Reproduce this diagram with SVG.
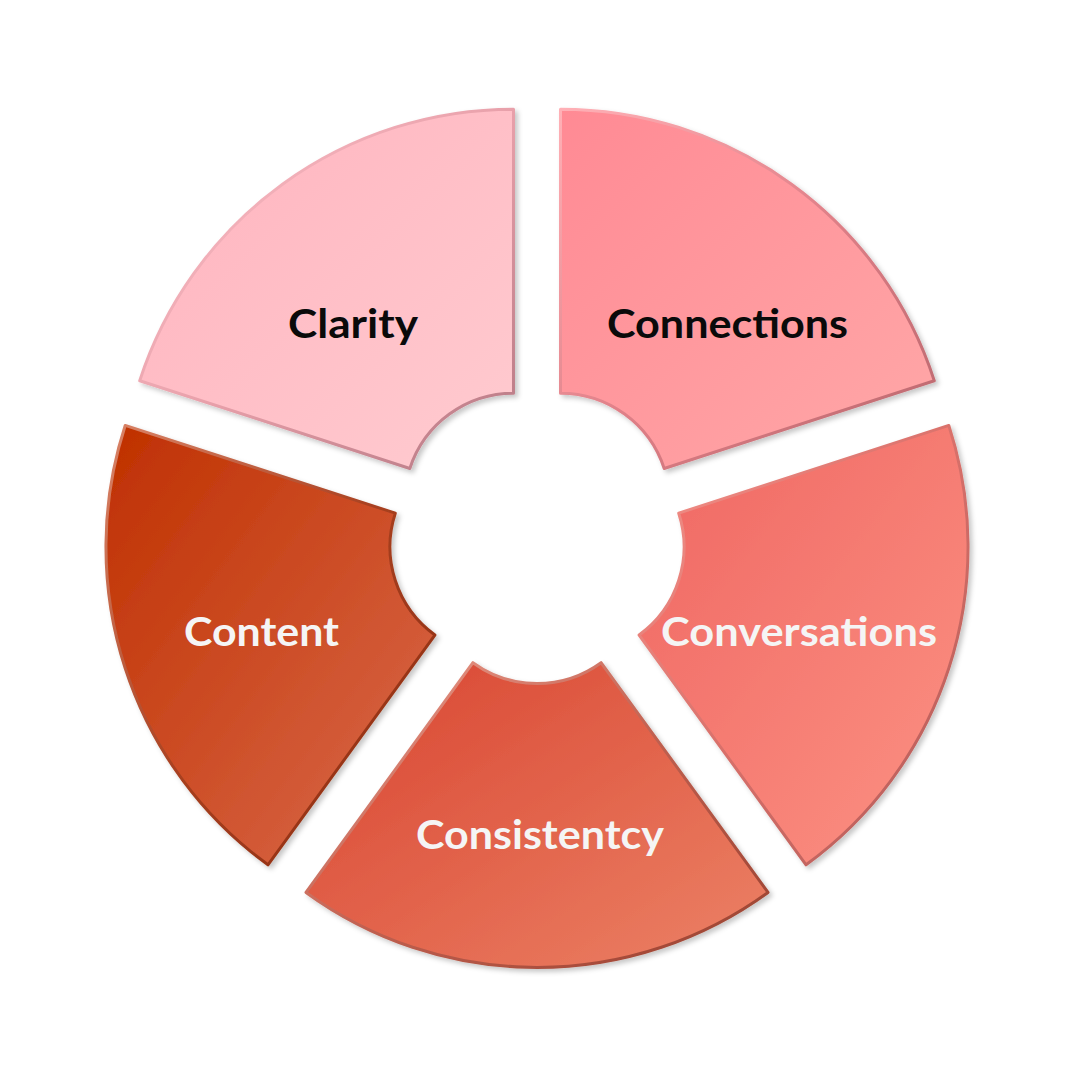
<svg xmlns="http://www.w3.org/2000/svg" width="1080" height="1080" viewBox="0 0 1080 1080">
  <style>
    .seg { stroke-width: 3; stroke-linejoin: round; filter: url(#sh); }
    .lbl { font-family: Lato, "Noto Sans", "DejaVu Sans", sans-serif; font-weight: 700; font-size: 41px; text-anchor: middle; }
    .dark { fill: #0a0a0a; }
    .light { fill: #f5f5f5; }
  </style>
  <defs>
    <filter id="sh" x="-10%" y="-10%" width="125%" height="125%">
      <feDropShadow dx="3" dy="3" stdDeviation="2.5" flood-color="#000" flood-opacity="0.22"/>
    </filter>
    <linearGradient id="fClarity" x1="0" y1="0" x2="1" y2="1"><stop offset="0" stop-color="#FFB3BE"/><stop offset="1" stop-color="#FFCBD0"/></linearGradient>
    <linearGradient id="sClarity" x1="0" y1="0" x2="1" y2="1"><stop offset="0" stop-color="#FFC4CC"/><stop offset="0.5" stop-color="#E8A0AA"/><stop offset="1" stop-color="#B47782"/></linearGradient>
    <linearGradient id="fConn" x1="0" y1="0" x2="1" y2="1"><stop offset="0" stop-color="#FF8A94"/><stop offset="1" stop-color="#FFA8A8"/></linearGradient>
    <linearGradient id="sConn" x1="0" y1="0" x2="1" y2="1"><stop offset="0" stop-color="#FFB0B6"/><stop offset="0.5" stop-color="#E08088"/><stop offset="1" stop-color="#B8666C"/></linearGradient>
    <linearGradient id="fConv" x1="0" y1="0" x2="1" y2="1"><stop offset="0" stop-color="#EF6662"/><stop offset="1" stop-color="#FC9283"/></linearGradient>
    <linearGradient id="sConv" x1="0" y1="0" x2="1" y2="1"><stop offset="0" stop-color="#F7948C"/><stop offset="0.5" stop-color="#D8706A"/><stop offset="1" stop-color="#B05A56"/></linearGradient>
    <linearGradient id="fCons" x1="0" y1="0" x2="1" y2="1"><stop offset="0" stop-color="#D84430"/><stop offset="1" stop-color="#EC8266"/></linearGradient>
    <linearGradient id="sCons" x1="0" y1="0" x2="1" y2="1"><stop offset="0" stop-color="#EFA090"/><stop offset="0.5" stop-color="#C06050"/><stop offset="1" stop-color="#98402E"/></linearGradient>
    <linearGradient id="fCont" x1="0" y1="0" x2="1" y2="1"><stop offset="0" stop-color="#BF3000"/><stop offset="1" stop-color="#DA6A4C"/></linearGradient>
    <linearGradient id="sCont" x1="0" y1="0" x2="1" y2="1"><stop offset="0" stop-color="#DA8468"/><stop offset="0.5" stop-color="#A84020"/><stop offset="1" stop-color="#882A10"/></linearGradient>
  </defs>
  <rect width="1080" height="1080" fill="#ffffff"/>

  <g id="clarity">
    <path class="seg" fill="url(#fClarity)" stroke="url(#sClarity)" d="M 139.72 380.70 A 393 393 0 0 1 513.49 109.14 L 513.49 393.14 A 109 109 0 0 0 409.82 468.46 Z"/>
    <text class="lbl dark" x="353" y="338" textLength="130" lengthAdjust="spacingAndGlyphs">Clarity</text>
  </g>
  <g id="connections">
    <path class="seg" fill="url(#fConn)" stroke="url(#sConn)" d="M 560.51 109.14 A 393 393 0 0 1 934.28 380.70 L 664.18 468.46 A 109 109 0 0 0 560.51 393.14 Z"/>
    <text class="lbl dark" x="727.5" y="338" textLength="241" lengthAdjust="spacingAndGlyphs">Connections</text>
  </g>
  <g id="conversations">
    <path class="seg" fill="url(#fConv)" stroke="url(#sConv)" d="M 948.81 425.42 A 393 393 0 0 1 806.04 864.80 L 639.11 635.04 A 109 109 0 0 0 678.71 513.18 Z"/>
    <text class="lbl light" x="799" y="646" textLength="276" lengthAdjust="spacingAndGlyphs">Conversations</text>
  </g>
  <g id="consistency">
    <path class="seg" fill="url(#fCons)" stroke="url(#sCons)" d="M 768.00 892.44 A 393 393 0 0 1 306.00 892.44 L 472.93 662.68 A 109 109 0 0 0 601.07 662.68 Z"/>
    <text class="lbl light" x="540" y="849" textLength="248" lengthAdjust="spacingAndGlyphs">Consistentcy</text>
  </g>
  <g id="content">
    <path class="seg" fill="url(#fCont)" stroke="url(#sCont)" d="M 267.96 864.80 A 393 393 0 0 1 125.19 425.42 L 395.29 513.18 A 109 109 0 0 0 434.89 635.04 Z"/>
    <text class="lbl light" x="261.5" y="646" textLength="155" lengthAdjust="spacingAndGlyphs">Content</text>
  </g>
  <g id="connectors"></g>
</svg>
